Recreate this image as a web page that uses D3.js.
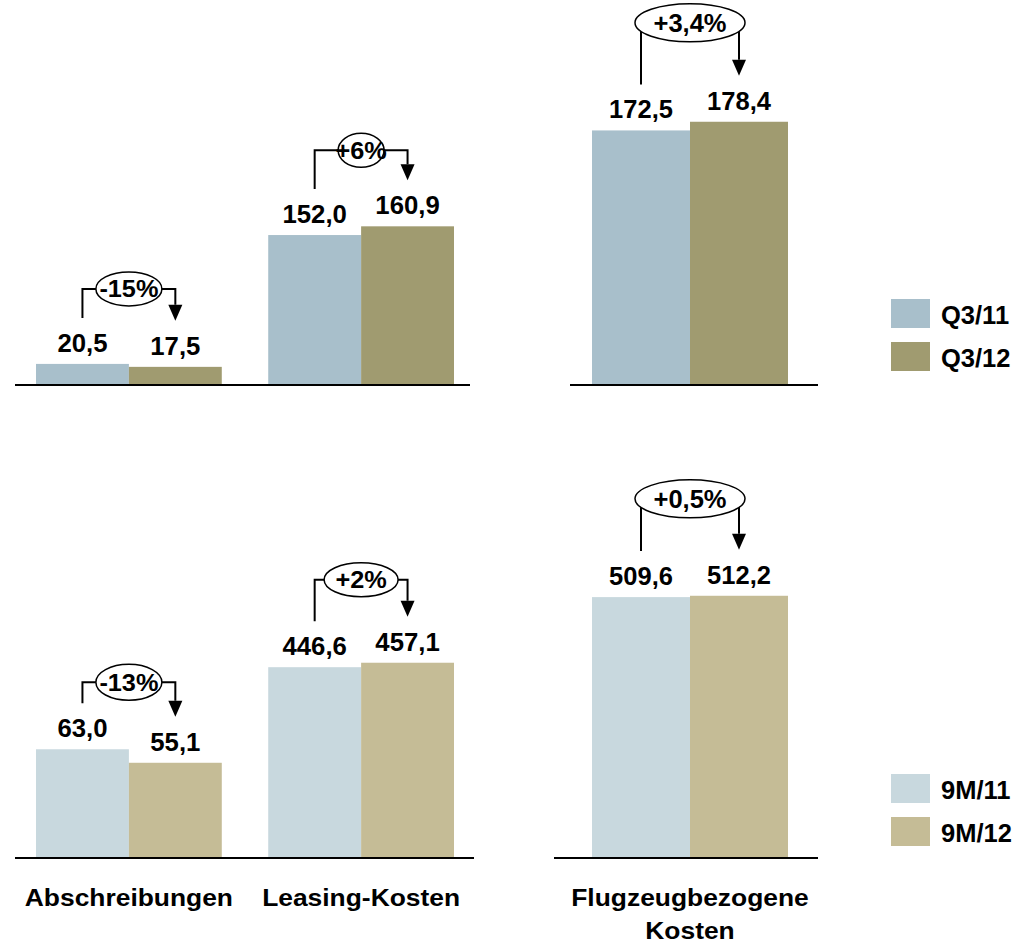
<!DOCTYPE html>
<html>
<head>
<meta charset="utf-8">
<script src="https://cdn.jsdelivr.net/npm/d3@7/dist/d3.min.js"></script>
<style>
  html, body { margin: 0; padding: 0; background: #fff; }
  svg { display: block; }
  text { font-family: "Liberation Sans", Arial, Helvetica, sans-serif; font-weight: bold; fill: #000; }
</style>
</head>
<body>
<svg id="chart" width="1029" height="945"></svg>
<script>
// ---- data ----
const categories = ["Abschreibungen", "Leasing-Kosten", "Flugzeugbezogene Kosten"];
const categoryLines = [["Abschreibungen"], ["Leasing-Kosten"], ["Flugzeugbezogene", "Kosten"]];

const quarterSeries = ["Q3/11", "Q3/12"];
const q3_11 = [20.5, 152.0, 172.5];
const q3_12 = [17.5, 160.9, 178.4];
const q3Change = ["-15%", "+6%", "+3,4%"];

const ninemSeries = ["9M/11", "9M/12"];
const m9_11 = [63.0, 446.6, 509.6];
const m9_12 = [55.1, 457.1, 512.2];
const m9Change = ["-13%", "+2%", "+0,5%"];

// ---- styling / layout ----
const colors = {
  "Q3/11": "#a8bfcb",
  "Q3/12": "#a09b70",
  "9M/11": "#c8d8de",
  "9M/12": "#c5bc96"
};
const FONT = '"Liberation Sans", Arial, Helvetica, sans-serif';

const svg = d3.select("#chart");
const de = d3.formatLocale({ decimal: ",", thousands: ".", grouping: [3], currency: ["", " €"] });
const fmt = de.format(".1f");

// left panel holds the first two categories, right panel the third
const xLeft = d3.scaleBand().domain(categories.slice(0, 2)).range([36, 454]).paddingInner(0.2).paddingOuter(0);
const xRight = d3.scaleBand().domain(categories.slice(2)).range([592, 788]).padding(0);
const xOf = c => (xLeft.domain().includes(c) ? xLeft : xRight);

// each row: baseline, axis extents, per-category y scale, annotation geometry
const rows = [
  {
    series: quarterSeries, a: q3_11, b: q3_12, change: q3Change,
    base: 384,
    axes: [[15, 470], [570, 818]],
    yDomain: [[0, 200], [0, 200], [0, 200]],
    yPx: [196, 196, 294],
    valueFont: [[25, 1.03], [25, 1.03], [25.5, 1]],
    pctFont: [[23, 1.1], [23, 1.1], [25.5, 1]],
    ell: [{ rx: 33, ry: 17, lift: 75 }, { rx: 23, ry: 17, lift: 76 }, { rx: 55, ry: 19, lift: 99 }],
    legendY: 299
  },
  {
    series: ninemSeries, a: m9_11, b: m9_12, change: m9Change,
    base: 857,
    axes: [[15, 474], [554, 818]],
    yDomain: [[0, 100], [0, 500], [0, 600]],
    yPx: [171, 212.5, 306],
    valueFont: [[25, 1.03], [25, 1.03], [25.5, 1]],
    pctFont: [[23, 1.1], [23, 1.1], [25.5, 1]],
    ell: [{ rx: 33, ry: 18, lift: 67 }, { rx: 37, ry: 17, lift: 83 }, { rx: 55, ry: 19, lift: 97 }],
    legendY: 774
  }
];

// text with optional horizontal stretch
function label(parent, x, y, str, size, sx, anchor) {
  const g = parent.append("g").attr("transform", `translate(${x},${y}) scale(${sx},1)`);
  return g.append("text")
    .attr("text-anchor", anchor || "middle")
    .style("font-size", size + "px")
    .style("font-family", FONT)
    .text(str);
}

rows.forEach(row => {
  const g = svg.append("g");
  const yScales = categories.map((c, i) =>
    d3.scaleLinear().domain(row.yDomain[i]).range([row.base, row.base - row.yPx[i]]));

  categories.forEach((cat, i) => {
    const x = xOf(cat);
    const inner = d3.scaleBand().domain(row.series).range([0, x.bandwidth()]).padding(0);
    const y = yScales[i];
    const vals = [row.a[i], row.b[i]];
    const gx = x(cat);

    // bars
    g.selectAll(null)
      .data(row.series.map((s, k) => ({ s, v: vals[k] })))
      .join("rect")
      .attr("x", d => gx + inner(d.s))
      .attr("y", d => y(d.v))
      .attr("width", inner.bandwidth())
      .attr("height", d => row.base - y(d.v))
      .attr("fill", d => colors[d.s]);

    // value labels
    const [vs, vsx] = row.valueFont[i];
    row.series.forEach((s, k) => {
      label(g, gx + inner(s) + inner.bandwidth() / 2, y(vals[k]) - 12, fmt(vals[k]), vs, vsx);
    });

    // change bracket: up from first bar, across, down with arrow to second bar
    const x1 = gx + inner(row.series[0]) + inner.bandwidth() / 2;
    const x2 = gx + inner(row.series[1]) + inner.bandwidth() / 2;
    const e = row.ell[i];
    const yc = Math.min(y(vals[0]), y(vals[1])) - e.lift;
    const yStart = y(vals[0]) - 46;
    const yTip = y(vals[1]) - 46;
    const head = 16, hw = 7;
    g.append("path")
      .attr("d", d3.line()([[x1, yStart], [x1, yc], [x2, yc], [x2, yTip - head]]))
      .attr("fill", "none").attr("stroke", "#000").attr("stroke-width", 2);
    g.append("path")
      .attr("d", d3.line()([[x2 - hw, yTip - head], [x2 + hw, yTip - head], [x2, yTip]]) + "Z")
      .attr("fill", "#000");
    const cx = (x1 + x2) / 2;
    g.append("ellipse")
      .attr("cx", cx).attr("cy", yc).attr("rx", e.rx).attr("ry", e.ry)
      .attr("fill", "#fff").attr("stroke", "#000").attr("stroke-width", 1.5);
    const [ps, psx] = row.pctFont[i];
    label(g, cx, yc, row.change[i], ps, psx).attr("dy", "0.36em");
  });

  // baselines
  row.axes.forEach(([a, b]) => {
    g.append("line")
      .attr("x1", a).attr("x2", b).attr("y1", row.base + 1).attr("y2", row.base + 1)
      .attr("stroke", "#000").attr("stroke-width", 2);
  });

  // legend
  row.series.forEach((s, k) => {
    const ly = row.legendY + k * 43;
    g.append("rect")
      .attr("x", 891).attr("y", ly).attr("width", 39).attr("height", 29)
      .attr("fill", colors[s]);
    label(g, 941, ly + 25, s, 25.5, 1, "start");
  });
});

// category labels under the lower row
categories.forEach((cat, i) => {
  const x = xOf(cat);
  const cx = x(cat) + x.bandwidth() / 2;
  categoryLines[i].forEach((line, j) => {
    label(svg, cx, 906 + j * 33, line, 24, 1.1);
  });
});
</script>
</body>
</html>
